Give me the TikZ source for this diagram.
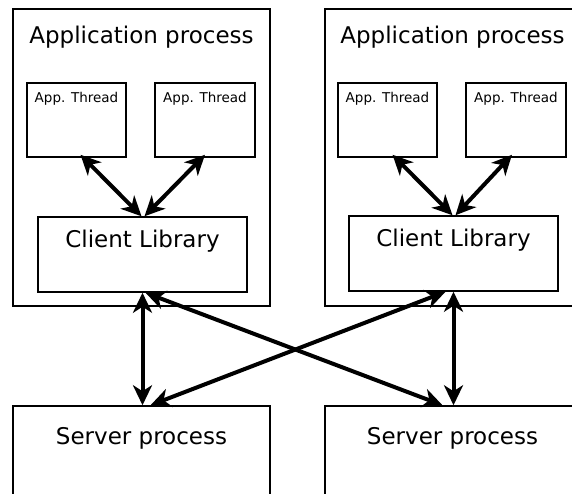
\documentclass[tikz,border=0pt]{standalone}
\usepackage{fontspec}
\setmainfont{DejaVu Sans}
\usetikzlibrary{positioning,arrows.meta}

\tikzset{
  box/.style={draw,line width=1.5pt,rectangle,inner sep=0pt},
  big/.style={font=\fontsize{23}{27}\selectfont,inner sep=0pt},
  small/.style={font=\fontsize{13.5}{15}\selectfont,inner sep=0pt},
  link/.style={line width=4pt,{Stealth[length=20pt,width=19pt,inset=6pt]}-{Stealth[length=20pt,width=19pt,inset=6pt]}}
}

\begin{document}
\begin{tikzpicture}[x=1pt,y=-1pt]
\useasboundingbox (0,0) rectangle (572,493);
\clip (0,0) rectangle (572,493);
% processes
\node[box,minimum width=257pt,minimum height=297pt] (appL) at (141.5,157.5) {};
\node[box,minimum width=255pt,minimum height=297pt] (appR) at (452.5,157.5) {};
\node[box,minimum width=257pt,minimum height=114pt] (srvL) at (141.5,463) {};
\node[box,minimum width=255pt,minimum height=114pt] (srvR) at (452.5,463) {};
% threads
\node[box,minimum width=99pt,minimum height=74pt] (thrLa) at (76.5,120) {};
\node[box,minimum width=100pt,minimum height=74pt] (thrLb) at (205,120) {};
\node[box,minimum width=99pt,minimum height=74pt] (thrRa) at (387.5,120) {};
\node[box,minimum width=100pt,minimum height=74pt] (thrRb) at (516,120) {};
% client libraries
\node[box,minimum width=209pt,minimum height=75pt] (libL) at (142.5,254.5) {};
\node[box,minimum width=209pt,minimum height=75pt] (libR) at (453.5,253.5) {};
%
\node[big,below=18pt of appL.north] (appLt) {Application process};
\node[big,below=18pt of appR.north] (appRt) {Application process};
\node[small,below=10pt of thrLa.north] (thrLat) {App. Thread};
\node[small,below=10pt of thrLb.north] (thrLbt) {App. Thread};
\node[small,below=10pt of thrRa.north] (thrRat) {App. Thread};
\node[small,below=10pt of thrRb.north] (thrRbt) {App. Thread};
\node[big,below=14pt of libL.north] (libLt) {Client Library};
\node[big,below=14pt of libR.north] (libRt) {Client Library};
\node[big,below=22pt of srvL.north] (srvLt) {Server process};
\node[big,below=22pt of srvR.north] (srvRt) {Server process};
%
\draw[link] ([xshift=4pt,yshift=3pt]thrLa.south) -- ([xshift=-1pt]libL.north);
\draw[link] ([yshift=3pt]thrLb.south) -- ([xshift=2pt]libL.north);
\draw[link] ([xshift=5pt,yshift=3pt]thrRa.south) -- ([xshift=-1pt]libR.north);
\draw[link] ([xshift=-4pt,yshift=3pt]thrRb.south) -- ([xshift=2pt]libR.north);
\draw[link] (libL.south) -- ([xshift=1pt]srvL.north);
\draw[link] (libR.south) -- ([xshift=1pt]srvR.north);
\draw[link] ([xshift=3pt]libL.south) -- ([xshift=-10pt]srvR.north);
\draw[link] ([xshift=-8pt]libR.south) -- ([xshift=9pt]srvL.north);
\end{tikzpicture}
\end{document}
